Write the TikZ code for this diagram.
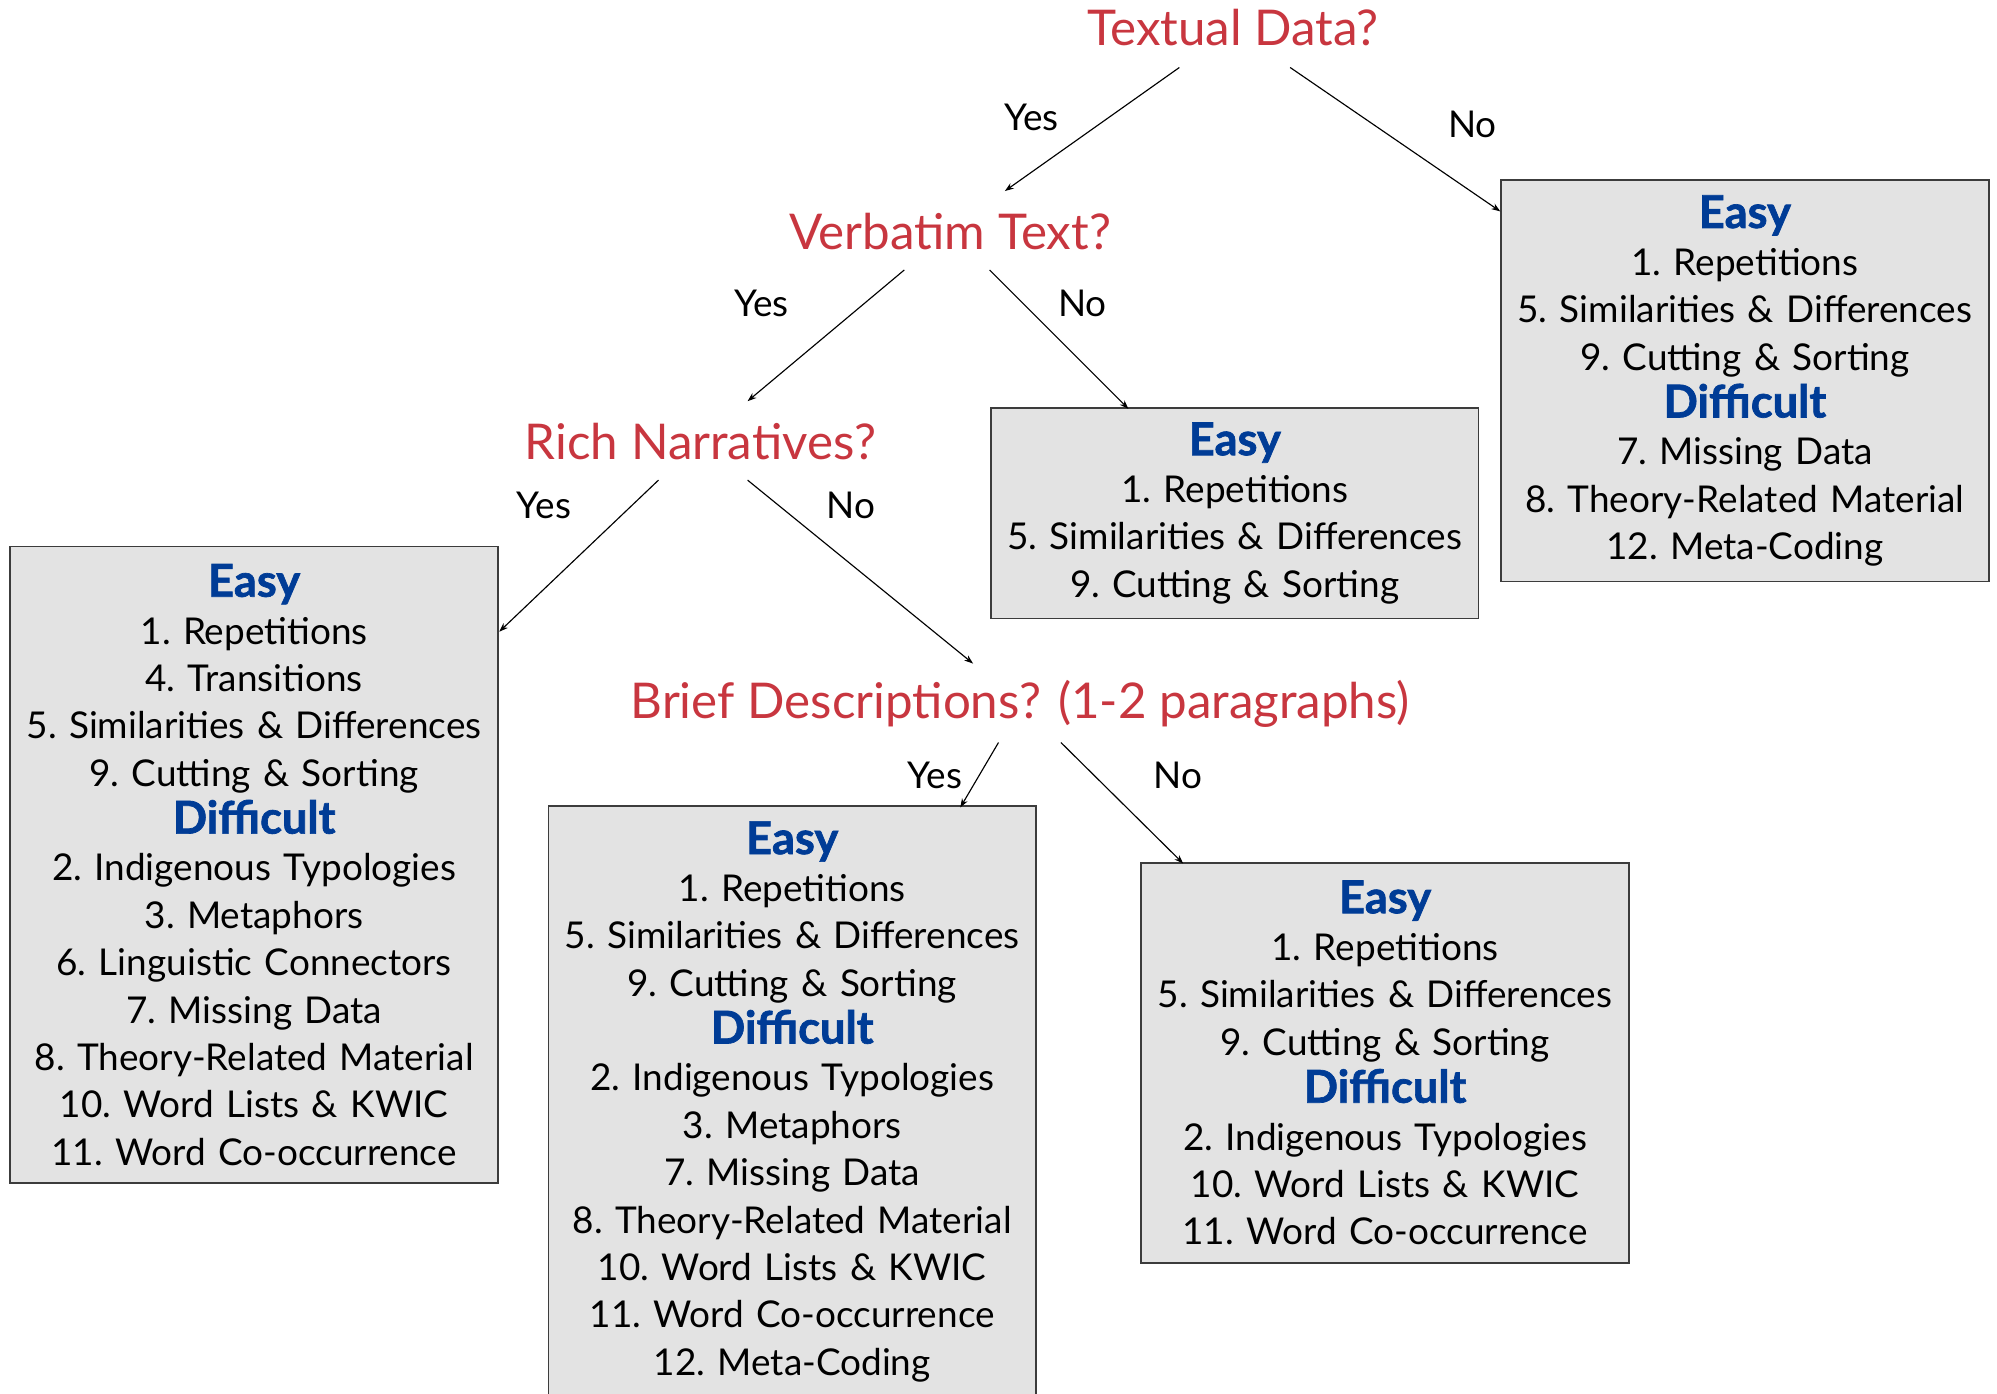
\documentclass[tikz,border=0pt]{standalone}
\usepackage{fontspec}
\setmainfont{Lato}
\newfontfamily\heavyfont{Lato}[BoldFeatures={FakeBold=1.5}]
\usetikzlibrary{arrows.meta}
\definecolor{qred}{RGB}{200,54,63}
\definecolor{hblue}{RGB}{0,60,150}
\definecolor{boxfill}{RGB}{227,227,227}
\definecolor{boxline}{RGB}{60,60,60}
\tikzset{
  question/.style={text=qred, font=\fontsize{38.7}{42}\selectfont, inner sep=0pt},
  ynlabel/.style={font=\fontsize{29}{32}\selectfont, inner sep=0pt},
  listbox/.style={draw=boxline, line width=1.2pt, fill=boxfill, minimum width=383pt,
     text width=380pt, align=center, inner sep=0pt,
     font=\fontsize{29}{37.2}\selectfont\frenchspacing},
  arr/.style={-{Stealth[length=7pt,width=5pt]}, line width=0.9pt},
}
\newcommand{\hd}[1]{{\heavyfont\bfseries\fontsize{35.5}{37.2}\selectfont\color{hblue}#1}}
\begin{document}
\begin{tikzpicture}[x=1pt,y=-1pt]
\useasboundingbox (0,0) rectangle (1568,1094);
% questions
\node[question] (td) at (968,22) {Textual Data?};
\node[question] (vt) at (746,182) {Verbatim Text?};
\node[question] (rn) at (550,347) {Rich Narratives?};
\node[question] (bd) at (801,553) {Brief Descriptions? (1-2 paragraphs)};
% boxes
\node[listbox, minimum height=315pt] (b1) at (1370,299) {\hd{Easy}\\1. Repetitions\\5. Similarities \& Differences\\9. Cutting \& Sorting\\\hd{Difficult}\\7. Missing Data\\8. Theory-Related Material\\12. Meta-Coding};
\node[listbox, minimum height=165pt] (b2) at (969.5,403) {\hd{Easy}\\1. Repetitions\\5. Similarities \& Differences\\9. Cutting \& Sorting};
\node[listbox, minimum height=500pt] (b3) at (199.5,679) {\hd{Easy}\\1. Repetitions\\4. Transitions\\5. Similarities \& Differences\\9. Cutting \& Sorting\\\hd{Difficult}\\2. Indigenous Typologies\\3. Metaphors\\6. Linguistic Connectors\\7. Missing Data\\8. Theory-Related Material\\10. Word Lists \& KWIC\\11. Word Co-occurrence};
\node[listbox, minimum height=464pt] (b4) at (622,865) {\hd{Easy}\\1. Repetitions\\5. Similarities \& Differences\\9. Cutting \& Sorting\\\hd{Difficult}\\2. Indigenous Typologies\\3. Metaphors\\7. Missing Data\\8. Theory-Related Material\\10. Word Lists \& KWIC\\11. Word Co-occurrence\\12. Meta-Coding};
\node[listbox, minimum height=314pt] (b5) at (1087.5,834.5) {\hd{Easy}\\1. Repetitions\\5. Similarities \& Differences\\9. Cutting \& Sorting\\\hd{Difficult}\\2. Indigenous Typologies\\10. Word Lists \& KWIC\\11. Word Co-occurrence};
% connector end points
\coordinate (tdY) at (926,53);  \coordinate (vtT) at (789,150);
\coordinate (tdN) at (1013,53); \coordinate (b1W) at (1178,166);
\coordinate (vtY) at (710,212); \coordinate (rnT) at (587,315);
\coordinate (vtN) at (777,212); \coordinate (b2N) at (886,321);
\coordinate (rnY) at (517,377); \coordinate (b3E) at (392,496);
\coordinate (rnN) at (587,377); \coordinate (bdT) at (764,521);
\coordinate (bdY) at (784,583); \coordinate (b4N) at (754,634);
\coordinate (bdN) at (833,583); \coordinate (b5N) at (929,678);
\draw[arr] (tdY) -- (vtT);
\draw[arr] (tdN) -- (b1W);
\draw[arr] (vtY) -- (rnT);
\draw[arr] (vtN) -- (b2N);
\draw[arr] (rnY) -- (b3E);
\draw[arr] (rnN) -- (bdT);
\draw[arr] (bdY) -- (b4N);
\draw[arr] (bdN) -- (b5N);
% labels
\node[ynlabel] (l1) at (810,92) {Yes};
\node[ynlabel] (l2) at (1156,98) {No};
\node[ynlabel] (l3) at (598,238) {Yes};
\node[ynlabel] (l4) at (850,238) {No};
\node[ynlabel] (l5) at (427,397) {Yes};
\node[ynlabel] (l6) at (668,397) {No};
\node[ynlabel] (l7) at (734,609) {Yes};
\node[ynlabel] (l8) at (925,609) {No};
\end{tikzpicture}
\end{document}
